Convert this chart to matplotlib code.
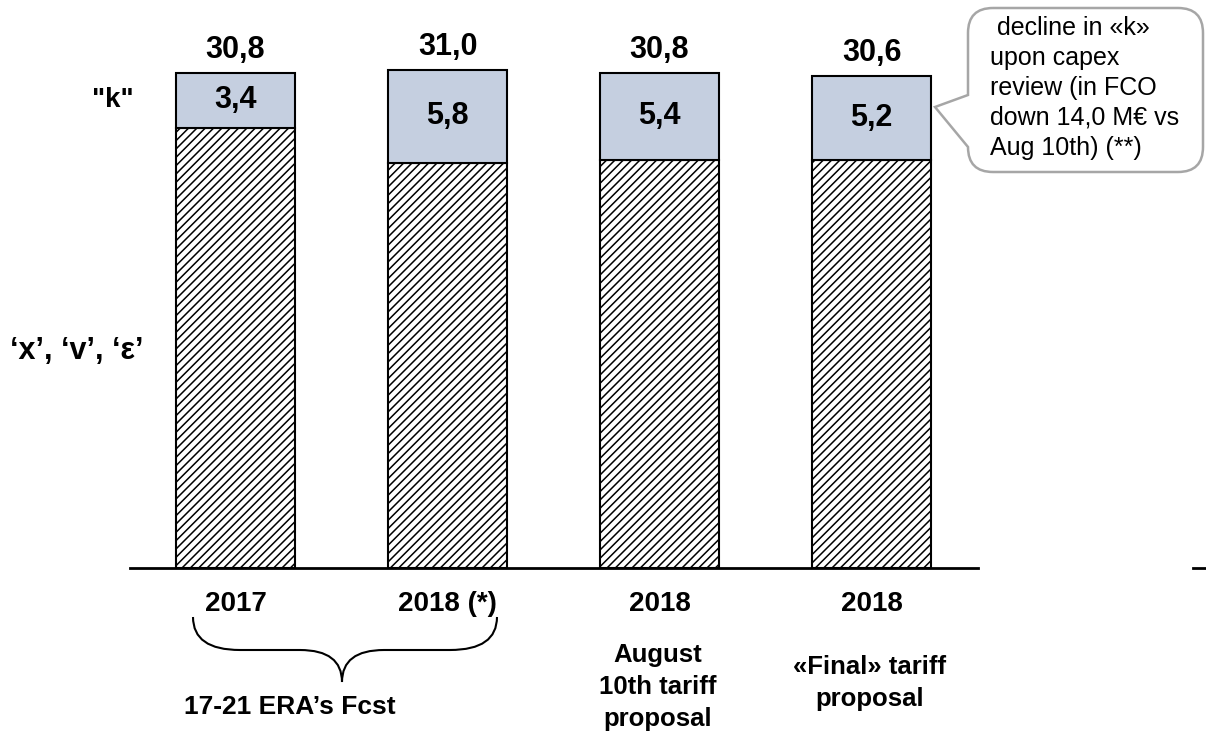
import matplotlib.pyplot as plt
import matplotlib.transforms as mtransforms
from matplotlib.path import Path
from matplotlib.patches import PathPatch
from matplotlib.lines import Line2D

# data
categories = ['2017', '2018 (*)', '2018', '2018']
sublabels = ['', '', 'August\n10th tariff\nproposal', '«Final» tariff\nproposal']
base_values = [27.4, 25.2, 25.4, 25.4]   # 'x', 'v', 'e' part
k_values = [3.4, 5.8, 5.4, 5.2]          # "k" part
k_labels = ['3,4', '5,8', '5,4', '5,2']
total_labels = ['30,8', '31,0', '30,8', '30,6']
callout_lines = [' decline in «k»', 'upon capex', 'review (in FCO',
                 'down 14,0 M€ vs', 'Aug 10th) (**)']

W, H = 1206, 735
plt.rcParams['font.family'] = ['Liberation Sans', 'DejaVu Sans']
plt.rcParams['hatch.linewidth'] = 1.1

fig = plt.figure(figsize=(W / 100, H / 100), dpi=100)


def fx(x):
    return x / W


def fy(y):
    return 1 - y / H


# axes placed so the baseline sits where it is on the slide
ax = fig.add_axes([fx(130), fy(568), (978 - 130) / W, 568 / H])
ax.set_xlim(-0.498, 3.502)
ax.set_ylim(0, 35.35)
for s in ['top', 'left', 'right']:
    ax.spines[s].set_visible(False)
ax.spines['bottom'].set_linewidth(2)
ax.set_xticks([])
ax.set_yticks([])

x = range(len(categories))
bar_w = 0.56
ax.bar(x, base_values, bar_w, color='white', edgecolor='black', hatch='////', linewidth=1.5)
ax.bar(x, k_values, bar_w, bottom=base_values, color='#c5cfe0', edgecolor='black', linewidth=1.5)

for i in x:
    top = base_values[i] + k_values[i]
    ax.text(i, top + 1.45, total_labels[i], ha='center', va='center', fontsize=22, fontweight='bold')
    ax.text(i, base_values[i] + k_values[i] / 2, k_labels[i], ha='center', va='center',
            fontsize=22, fontweight='bold')

# category labels under the axis
tr = mtransforms.blended_transform_factory(ax.transData, fig.transFigure)
for i in x:
    ax.text(i, fy(604), categories[i], transform=tr, ha='center', va='center',
            fontsize=20, fontweight='bold')
    if sublabels[i]:
        lines = sublabels[i].split('\n')
        y0 = 655 if len(lines) == 3 else 667
        for j, line in enumerate(lines):
            ax.text(i - 0.01, fy(y0 + 32 * j), line, transform=tr, ha='center', va='center',
                    fontsize=18.5, fontweight='bold')

# brace under the first two bars
brace = [(193, 617), (193, 650), (240, 650), (300, 650), (342, 650), (342, 682),
         (342, 650), (384, 650), (450, 650), (497, 650), (497, 617)]
codes = [Path.MOVETO, Path.CURVE3, Path.CURVE3, Path.LINETO, Path.CURVE3, Path.CURVE3,
         Path.CURVE3, Path.CURVE3, Path.LINETO, Path.CURVE3, Path.CURVE3]
brace_path = Path([(fx(a), fy(b)) for a, b in brace], codes)
fig.add_artist(PathPatch(brace_path, facecolor='none', edgecolor='black', lw=1.5,
                         transform=fig.transFigure))
fig.text(fx(290), fy(707), '17-21 ERA’s Fcst', ha='center', va='center',
         fontsize=19, fontweight='bold')

# row labels on the left
fig.text(fx(113), fy(100), '"k"', ha='center', va='center', fontsize=20, fontweight='bold')
fig.text(fx(77), fy(351), '‘x’, ‘v’, ‘ε’', ha='center', va='center', fontsize=22, fontweight='bold')

# short piece of baseline at the right edge
fig.add_artist(Line2D([fx(1193), fx(1206)], [fy(568), fy(568)], color='black', lw=2))

# callout bubble
r = 25
L, T, R, B = 968, 8, 1203, 172
pts = [(L + r, T), (R - r, T), (R, T), (R, T + r), (R, B - r), (R, B), (R - r, B),
       (L + r, B), (L, B), (L, B - r), (935, 107), (L, 95), (L, T + r), (L, T), (L + r, T)]
cc = [Path.MOVETO, Path.LINETO, Path.CURVE3, Path.CURVE3, Path.LINETO, Path.CURVE3, Path.CURVE3,
      Path.LINETO, Path.CURVE3, Path.CURVE3, Path.LINETO, Path.LINETO, Path.LINETO,
      Path.CURVE3, Path.CURVE3]
bubble = Path([(fx(a), fy(b)) for a, b in pts], cc)
fig.add_artist(PathPatch(bubble, facecolor='white', edgecolor='#a6a6a6', lw=1.8,
                         transform=fig.transFigure))
for j, line in enumerate(callout_lines):
    fig.text(fx(990), fy(28 + 30 * j), line, ha='left', va='center', fontsize=18)

fig.savefig('out.png', dpi=100)
